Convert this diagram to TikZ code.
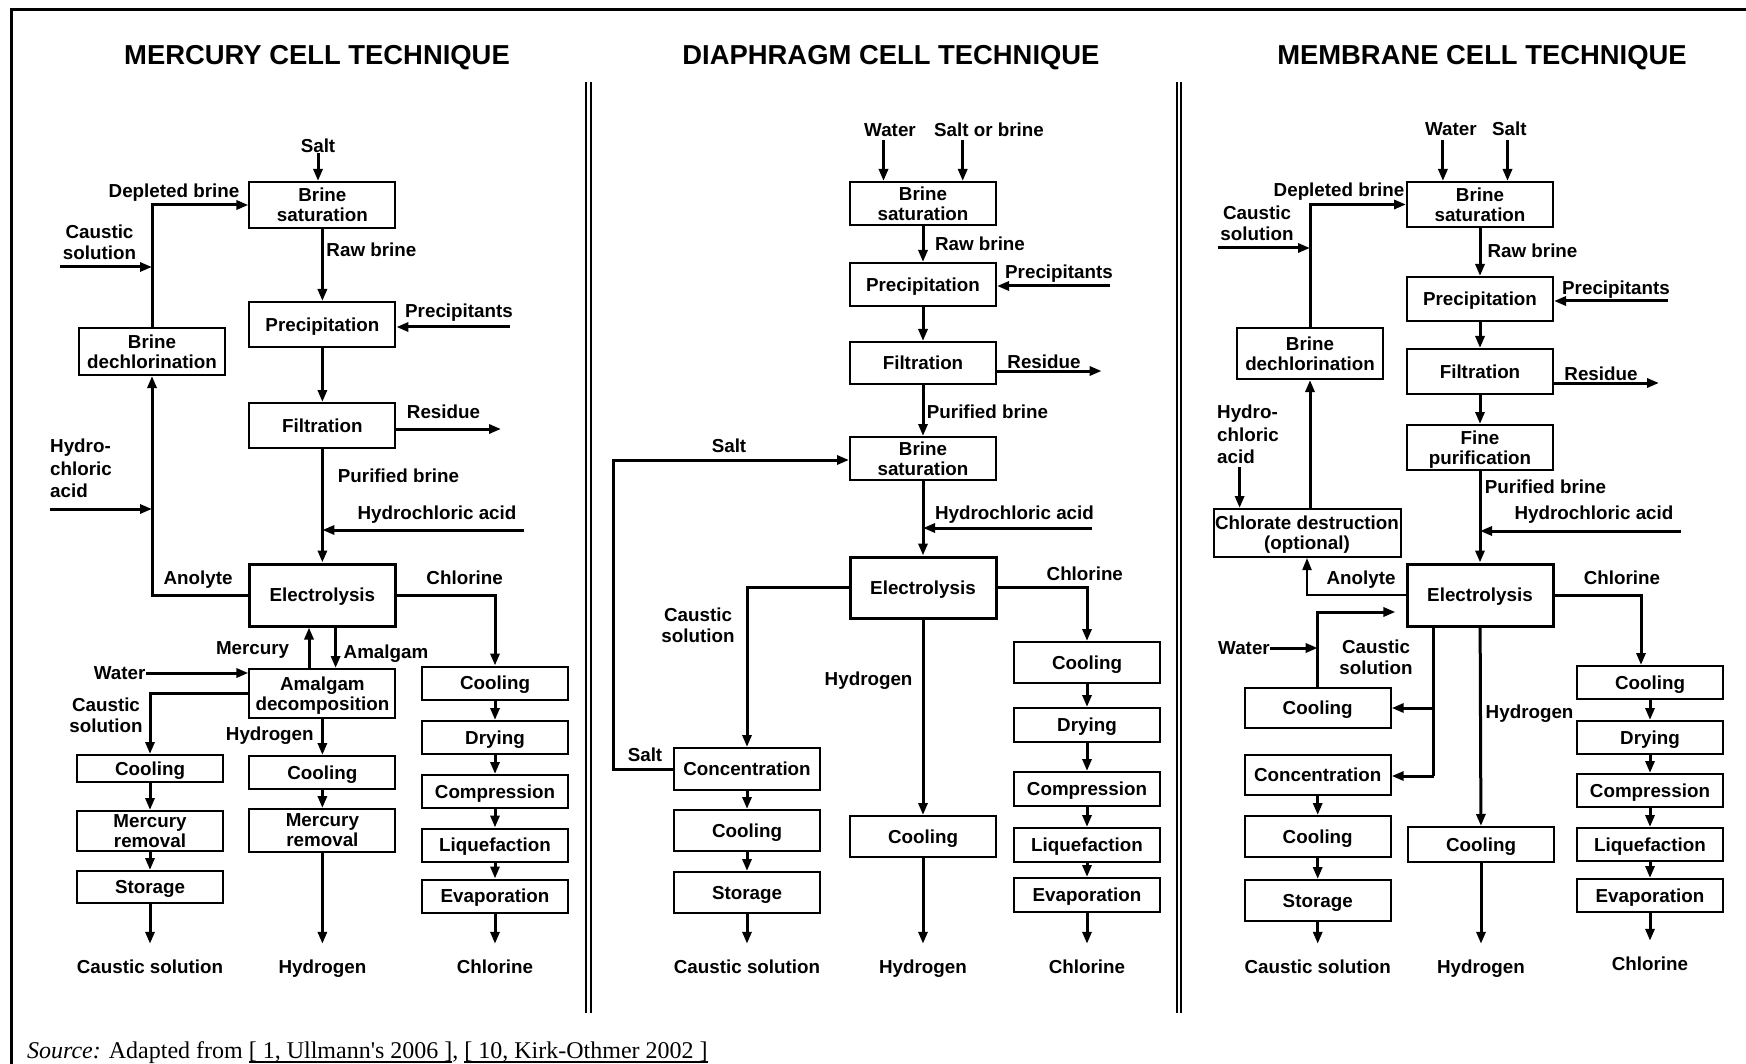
\documentclass[tikz,border=0pt]{standalone}
\usepackage{fontspec}
\setmainfont{Liberation Sans}
\newfontfamily\srcfont{Liberation Serif}
\usetikzlibrary{arrows.meta,calc}
\newcommand\refline[1]{\setbox0\hbox{#1}\rlap{\rule[-2pt]{\wd0}{0.7pt}}\box0}

\begin{document}
\begin{tikzpicture}[x=0.5pt,y=-0.5pt,
  every node/.style={font=\bfseries\fontsize{9.4}{10.5}\selectfont,inner sep=0pt,align=center,text depth=0pt},
  heading/.style={font=\bfseries\fontsize{13.7}{16}\selectfont},
  box/.style={draw,line width=1pt,minimum width=73pt,minimum height=#1,align=center,
    font=\bfseries\fontsize{9.4}{10}\selectfont},
  box/.default=17pt,
  cell/.style={box=#1,line width=1.5pt},
  arr/.style={line width=1.5pt,-{Triangle[length=6pt,width=4.5pt]}},
  thinarr/.style={line width=1pt,-{Triangle[length=6pt,width=4.5pt]}},
  flow/.style={line width=1.5pt},
  outlet/.style={arr,shorten >=8pt}]

  \useasboundingbox (0,0) rectangle (1746,1064);
  \draw[line width=1.5pt] (11,1064) -- (11,10) -- (1746,10);
  \foreach \x in {586,590.5,1176.5,1181}
    \draw[line width=1pt] (\x,82) -- (\x,1013);

  \node[heading] (hgTitle) at (317,54.8) {MERCURY CELL TECHNIQUE};
  \node[heading] (diaTitle) at (891,54.8) {DIAPHRAGM CELL TECHNIQUE};
  \node[heading] (memTitle) at (1482,54.8) {MEMBRANE CELL TECHNIQUE};

  % mercury cell
  \node[box=23pt] (hgSat) at (322.4,205) {Brine\\saturation};
  \node[box=22.5pt] (hgPrec) at (322.4,324.5) {Precipitation};
  \node[box=22.5pt] (hgFilt) at (322.4,425.5) {Filtration};
  \node[cell=31pt] (hgElec) at (322.4,595) {Electrolysis};
  \node[box=24.5pt] (hgDec) at (322.4,693.5) {Amalgam\\decomposition};
  \node[box=23.5pt] (hgDechl) at (152,351.5) {Brine\\dechlorination};
  \node[box=13.5pt] (hgCoolC) at (150,768.5) {Cooling};
  \node[box=20pt] (hgRemC) at (150,831) {Mercury\\removal};
  \node[box=16pt] (hgStor) at (150,887) {Storage};
  \node[box=16.5pt] (hgCoolH) at (322.4,772.5) {Cooling};
  \node[box=21.5pt] (hgRemH) at (322.4,830.5) {Mercury\\removal};
  \foreach \n/\t/\y in {1/Cooling/683,2/Drying/737.5,3/Compression/791.5,4/Liquefaction/845,5/Evaporation/896}
    \node[box=16.5pt] (hgCl\n) at (495,\y) {\t};

  \node (hgSalt) at (318,146) {Salt};
  \node (hgDepl) at (174,191) {Depleted brine};
  \node (hgCaus) at (99.5,242) {Caustic\\solution};
  \node (hgRaw) at (371.4,250) {Raw brine};
  \node (hgPrecip) at (459,311) {Precipitants};
  \node (hgRes) at (443.5,412) {Residue};
  \node[align=left,anchor=west,font=\bfseries\fontsize{9.4}{11.25}\selectfont] (hgAcid) at (49.8,468.5) {Hydro-\\chloric\\acid};
  \node (hgPure) at (398.5,476) {Purified brine};
  \node (hgHcl) at (437,513) {Hydrochloric acid};
  \node (hgAnol) at (198,578) {Anolyte};
  \node (hgChl) at (464.6,578) {Chlorine};
  \node (hgMerc) at (252.6,648) {Mercury};
  \node (hgAmal) at (386,652) {Amalgam};
  \node (hgWater) at (119.6,673) {Water};
  \node (hgCaus2) at (106,715) {Caustic\\solution};
  \node (hgHyd) at (269.8,734) {Hydrogen};
  \node (hgOutC) at (150,967) {Caustic solution};
  \node (hgOutH) at (322.4,967) {Hydrogen};
  \node (hgOutCl) at (495,967) {Chlorine};

  \coordinate (hgSaltIn) at (318,153);
  \coordinate (hgCausIn) at (60,267);
  \coordinate (hgPrecIn) at (510,327);
  \coordinate (hgResOut) at (501,429);
  \coordinate (hgAcidIn) at (49.8,509);
  \coordinate (hgHclIn) at (524,530);

  \draw[arr] (hgSaltIn) -- (hgSaltIn |- hgSat.north);
  \draw[arr] (hgSat) -- (hgPrec);
  \draw[arr] (hgPrec) -- (hgFilt);
  \draw[arr] (hgFilt) -- (hgElec);
  \draw[arr] (hgPrecIn) -- (hgPrecIn -| hgPrec.east);
  \draw[arr] (hgFilt.east |- hgResOut) -- (hgResOut);
  \draw[arr] (hgHclIn) -- (hgHclIn -| hgFilt.south);
  \draw[arr] (hgDechl.north) |- (hgSat.west);
  \draw[arr] (hgCausIn) -- (hgCausIn -| hgDechl.north);
  \draw[arr] (hgAcidIn) -- (hgAcidIn -| hgDechl.south);
  \draw[arr] (hgElec.west) -| (hgDechl.south);
  \draw[arr] (hgElec.east) -| (hgCl1.north);
  \draw[arr] ($(hgDec.north)+(-13.4,0)$) -- ($(hgElec.south)+(-13.4,0)$);
  \draw[arr] ($(hgElec.south)+(13.2,0)$) -- ($(hgDec.north)+(13.2,0)$);
  \draw[arr] (hgWater.east) -- (hgWater.east -| hgDec.west);
  \draw[arr] (hgDec.west) -| (hgCoolC.north);
  \draw[arr] (hgDec) -- (hgCoolH);
  \draw[arr] (hgCoolC) -- (hgRemC);
  \draw[arr] (hgRemC) -- (hgStor);
  \draw[arr] (hgCoolH) -- (hgRemH);
  \foreach \a/\b in {1/2,2/3,3/4,4/5}
    \draw[arr] (hgCl\a) -- (hgCl\b);
  \draw[outlet] (hgStor) -- (hgOutC);
  \draw[outlet] (hgRemH) -- (hgOutH);
  \draw[outlet] (hgCl5) -- (hgOutCl);

  % diaphragm cell
  \node[box=21.5pt] (diaSat) at (923,203.5) {Brine\\saturation};
  \node[box=21.5pt] (diaPrec) at (923,284.5) {Precipitation};
  \node[box=21pt] (diaFilt) at (923,363) {Filtration};
  \node[box=21.5pt] (diaSat2) at (923,458.5) {Brine\\saturation};
  \node[cell=30.5pt] (diaElec) at (923,587.5) {Electrolysis};
  \node[box=21pt] (diaConc) at (747,769) {Concentration};
  \node[box=20.5pt] (diaCoolC) at (747,830.5) {Cooling};
  \node[box=20.5pt] (diaStor) at (747,892.5) {Storage};
  \node[box=20.5pt] (diaCoolH) at (923,836.5) {Cooling};
  \foreach \n/\t/\y/\h in {1/Cooling/662.5/20.5pt,2/Drying/725/17pt,3/Compression/789/17pt,4/Liquefaction/845/17pt,5/Evaporation/895/17pt}
    \node[box=\h] (diaCl\n) at (1087,\y) {\t};

  \node (diaWater) at (890,130) {Water};
  \node (diaSalt) at (989,130) {Salt or brine};
  \node (diaRaw) at (980,244) {Raw brine};
  \node (diaPrecip) at (1059,272) {Precipitants};
  \node (diaRes) at (1044,362) {Residue};
  \node (diaPure) at (987.5,412) {Purified brine};
  \node (diaSaltA) at (729,446) {Salt};
  \node (diaHcl) at (1014.5,513) {Hydrochloric acid};
  \node (diaChl) at (1084.8,574) {Chlorine};
  \node (diaCaus) at (698,625.5) {Caustic\\solution};
  \node (diaHyd) at (868.6,679) {Hydrogen};
  \node (diaSaltB) at (645,755) {Salt};
  \node (diaOutC) at (747,967) {Caustic solution};
  \node (diaOutH) at (923,967) {Hydrogen};
  \node (diaOutCl) at (1087,967) {Chlorine};

  \coordinate (diaWaterIn) at (883.5,140);
  \coordinate (diaSaltIn) at (962.7,140);
  \coordinate (diaPrecIn) at (1110,286);
  \coordinate (diaResOut) at (1101.6,371);
  \coordinate (diaHclIn) at (1092,528);
  \coordinate (diaLoop) at (613.7,460);

  \draw[arr] (diaWaterIn) -- (diaWaterIn |- diaSat.north);
  \draw[arr] (diaSaltIn) -- (diaSaltIn |- diaSat.north);
  \draw[arr] (diaSat) -- (diaPrec);
  \draw[arr] (diaPrec) -- (diaFilt);
  \draw[arr] (diaFilt) -- (diaSat2);
  \draw[arr] (diaSat2) -- (diaElec);
  \draw[arr] (diaPrecIn) -- (diaPrecIn -| diaPrec.east);
  \draw[arr] (diaFilt.east |- diaResOut) -- (diaResOut);
  \draw[arr] (diaHclIn) -- (diaHclIn -| diaSat2.south);
  \draw[arr] (diaConc.west) -| (diaLoop) -- (diaLoop -| diaSat2.west);
  \draw[arr] (diaElec.west) -| (diaConc.north);
  \draw[arr] (diaElec.east) -| (diaCl1.north);
  \draw[arr] (diaElec) -- (diaCoolH);
  \draw[arr] (diaConc) -- (diaCoolC);
  \draw[arr] (diaCoolC) -- (diaStor);
  \foreach \a/\b in {1/2,2/3,3/4,4/5}
    \draw[arr] (diaCl\a) -- (diaCl\b);
  \draw[outlet] (diaStor) -- (diaOutC);
  \draw[outlet] (diaCoolH) -- (diaOutH);
  \draw[outlet] (diaCl5) -- (diaOutCl);

  % membrane cell
  \node[box=22.5pt] (memSat) at (1480,204.5) {Brine\\saturation};
  \node[box=22pt] (memPrec) at (1480,299) {Precipitation};
  \node[box=22.5pt] (memFilt) at (1480,371.5) {Filtration};
  \node[box=22.5pt] (memFine) at (1480,447.5) {Fine\\purification};
  \node[cell=31pt] (memElec) at (1480,595) {Electrolysis};
  \node[box=25.5pt] (memDechl) at (1310,353.5) {Brine\\dechlorination};
  \node[box=24pt,minimum width=93.5pt] (memChlor) at (1307,533) {Chlorate destruction\\(optional)};
  \node[box=20pt] (memCoolA) at (1317.7,708) {Cooling};
  \node[box=20pt] (memConc) at (1317.7,775) {Concentration};
  \node[box=20.5pt] (memCoolC) at (1317.7,836.5) {Cooling};
  \node[box=20.5pt] (memStor) at (1317.7,900.5) {Storage};
  \node[box=17.5pt] (memCoolH) at (1481,844.5) {Cooling};
  \foreach \n/\t/\y in {1/Cooling/682.5,2/Drying/737.5,3/Compression/790.5,4/Liquefaction/844.5,5/Evaporation/895.5}
    \node[box=16.5pt] (memCl\n) at (1650,\y) {\t};

  \node (memWater) at (1450.8,129) {Water};
  \node (memSalt) at (1509.4,129) {Salt};
  \node (memDepl) at (1339,190) {Depleted brine};
  \node (memCaus) at (1257,223.5) {Caustic\\solution};
  \node (memRaw) at (1532.5,251) {Raw brine};
  \node (memPrecip) at (1616,288) {Precipitants};
  \node (memRes) at (1601,374) {Residue};
  \node[align=left,anchor=west,font=\bfseries\fontsize{9.4}{11.25}\selectfont] (memAcid) at (1216.8,434.5) {Hydro-\\chloric\\acid};
  \node (memPure) at (1545.5,487) {Purified brine};
  \node (memHcl) at (1594,513) {Hydrochloric acid};
  \node (memAnol) at (1361,578) {Anolyte};
  \node (memChl) at (1622,578) {Chlorine};
  \node (memWaterB) at (1244,648) {Water};
  \node (memCaus2) at (1376,657) {Caustic\\solution};
  \node (memHyd) at (1529.6,712) {Hydrogen};
  \node (memOutC) at (1317.7,967) {Caustic solution};
  \node (memOutH) at (1481,967) {Hydrogen};
  \node (memOutCl) at (1650,964) {Chlorine};

  \coordinate (memWaterIn) at (1442.9,140);
  \coordinate (memSaltIn) at (1507.5,140);
  \coordinate (memCausIn) at (1218,248);
  \coordinate (memPrecIn) at (1667.5,301);
  \coordinate (memResOut) at (1659,383);
  \coordinate (memAcidIn) at (1239.6,467);
  \coordinate (memHclIn) at (1681,531);
  \coordinate (memBack) at (1395.4,612);
  \coordinate (memSplitA) at (1433.5,708);
  \coordinate (memSplitB) at (1433.5,776);

  \draw[arr] (memWaterIn) -- (memWaterIn |- memSat.north);
  \draw[arr] (memSaltIn) -- (memSaltIn |- memSat.north);
  \draw[arr] (memSat) -- (memPrec);
  \draw[arr] (memPrec) -- (memFilt);
  \draw[arr] (memFilt) -- (memFine);
  \draw[arr] (memFine) -- (memElec);
  \draw[arr] (memPrecIn) -- (memPrecIn -| memPrec.east);
  \draw[arr] (memFilt.east |- memResOut) -- (memResOut);
  \draw[arr] (memHclIn) -- (memHclIn -| memFine.south);
  \draw[arr] (memDechl.north) |- (memSat.west);
  \draw[arr] (memCausIn) -- (memCausIn -| memDechl.north);
  \draw[arr] (memAcidIn) -- (memAcidIn |- memChlor.north);
  \draw[arr] (memChlor.north -| memDechl.south) -- (memDechl.south);
  \draw[thinarr] (memElec.west) -| (memChlor.south);
  \draw[arr] (memElec.east) -| ($(memCl1.north)+(-9,0)$);
  \draw[arr] (memElec) -- (memCoolH);
  \draw[flow] (memSplitA |- memElec.south) -- (memSplitB);
  \draw[arr] (memSplitA) -- (memSplitA -| memCoolA.east);
  \draw[arr] (memSplitB) -- (memSplitB -| memConc.east);
  \draw[arr] (memCoolA.north) |- (memBack);
  \draw[arr] (memWaterB.east) -- (memWaterB.east -| memCoolA.north);
  \draw[arr] (memConc) -- (memCoolC);
  \draw[arr] (memCoolC) -- (memStor);
  \foreach \a/\b in {1/2,2/3,3/4,4/5}
    \draw[arr] (memCl\a) -- (memCl\b);
  \draw[outlet] (memStor) -- (memOutC);
  \draw[outlet] (memCoolH) -- (memOutH);
  \draw[outlet] (memCl5) -- (memOutCl);

  \node[anchor=base west,align=left,font=\srcfont\fontsize{12}{14}\selectfont] (src) at (26.7,1058.5)
    {\textit{Source:} Adapted from \refline{[ 1, Ullmann's 2006 ]}, \refline{[ 10, Kirk-Othmer 2002 ]}};
\end{tikzpicture}
\end{document}
